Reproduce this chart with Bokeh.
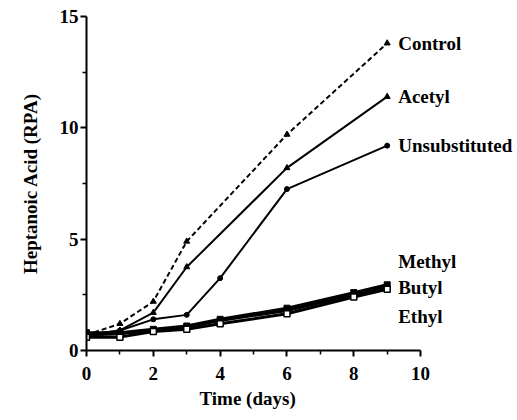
from bokeh.plotting import figure
from bokeh.models import Range1d, FixedTicker, Label, Title
from bokeh.embed import file_html
from bokeh.resources import INLINE

# ---- data ----
days_ctrl = [0, 1, 2, 3, 6, 9]
control = [0.7, 1.2, 2.2, 4.9, 9.7, 13.8]

days_acetyl = [0, 1, 2, 3, 6, 9]
acetyl = [0.7, 0.9, 1.7, 3.75, 8.2, 11.4]

days_unsub = [0, 1, 2, 3, 4, 6, 9]
unsubstituted = [0.7, 0.9, 1.4, 1.6, 3.25, 7.25, 9.2]

days_low = [0, 1, 2, 3, 4, 6, 8, 9]
methyl = [0.8, 0.8, 0.95, 1.1, 1.4, 1.9, 2.6, 2.95]
butyl = [0.7, 0.75, 0.9, 1.05, 1.35, 1.8, 2.5, 2.85]
ethyl = [0.6, 0.6, 0.85, 0.95, 1.2, 1.65, 2.4, 2.75]

x_ticks = [0, 2, 4, 6, 8, 10]
x_minor = [1, 3, 5, 7, 9]
y_ticks = [0, 5, 10, 15]
y_minor = [2.5, 7.5, 12.5]

FONT = "Liberation Serif"

p = figure(width=515, height=418, output_backend="svg", toolbar_location=None,
           x_range=Range1d(0, 12.84), y_range=Range1d(0, 15),
           min_border_left=86, min_border_right=0, min_border_top=16,
           min_border_bottom=68)
p.outline_line_color = None
p.grid.grid_line_color = None
p.background_fill_color = "white"
p.border_fill_color = "white"

for ax in (p.xaxis[0], p.yaxis[0]):
    ax.axis_line_width = 2
    ax.axis_line_color = "black"
    ax.major_tick_line_width = 2
    ax.minor_tick_line_width = 1.5
    ax.major_tick_in = 0
    ax.major_tick_out = 6
    ax.minor_tick_in = 0
    ax.minor_tick_out = 4
    ax.major_label_text_font = FONT
    ax.major_label_text_font_style = "bold"
    ax.major_label_text_font_size = "19px"
    ax.major_label_text_color = "black"
    ax.axis_label_text_font = FONT
    ax.axis_label_text_font_style = "bold"
    ax.axis_label_text_font_size = "19px"
    ax.axis_label_text_color = "black"

p.xaxis.bounds = (0, 10)
p.yaxis.bounds = (0, 15)
p.xaxis.ticker = FixedTicker(ticks=x_ticks, minor_ticks=x_minor)
p.yaxis.ticker = FixedTicker(ticks=y_ticks, minor_ticks=y_minor)
p.yaxis.axis_label = "Heptanoic Acid (RPA)"
p.xaxis.major_label_standoff = 10
p.yaxis.major_label_standoff = 2
p.yaxis.axis_label_standoff = 16

p.add_layout(Title(text="Time (days)", align="left", offset=113, standoff=7,
                   text_font=FONT, text_font_style="bold", text_font_size="19px",
                   text_color="black"), "below")

# series
p.line(days_ctrl, control, line_color="black", line_width=2, line_dash="5 3")
p.scatter(days_ctrl, control, marker="triangle", size=6, color="black")

p.line(days_acetyl, acetyl, line_color="black", line_width=2)
p.scatter(days_acetyl, acetyl, marker="triangle", size=6, color="black")

p.line(days_unsub, unsubstituted, line_color="black", line_width=2)
p.scatter(days_unsub, unsubstituted, marker="circle", size=5, color="black")

p.line(days_low, methyl, line_color="black", line_width=3)
p.scatter(days_low, methyl, marker="square", size=6, color="black")
p.line(days_low, butyl, line_color="black", line_width=3)
p.scatter(days_low, butyl, marker="circle", size=6, color="black")
p.line(days_low, ethyl, line_color="black", line_width=3)
p.scatter(days_low, ethyl, marker="square", size=6, fill_color="white",
          line_color="black", line_width=1.5)

# end labels
names = ["Control", "Acetyl", "Unsubstituted", "Methyl", "Butyl", "Ethyl"]
ends = [control[-1], acetyl[-1], unsubstituted[-1], methyl[-1], butyl[-1], ethyl[-1]]
y_shift = {"Methyl": 23, "Butyl": 0, "Ethyl": -27}
for name, yv in zip(names, ends):
    p.add_layout(Label(x=9, y=yv, text=name, x_offset=11, y_offset=y_shift.get(name, 0),
                       text_baseline="middle", text_align="left",
                       text_font=FONT, text_font_style="bold",
                       text_font_size="19px", text_color="black"))

open("out.html", "w").write(file_html(p, INLINE))
